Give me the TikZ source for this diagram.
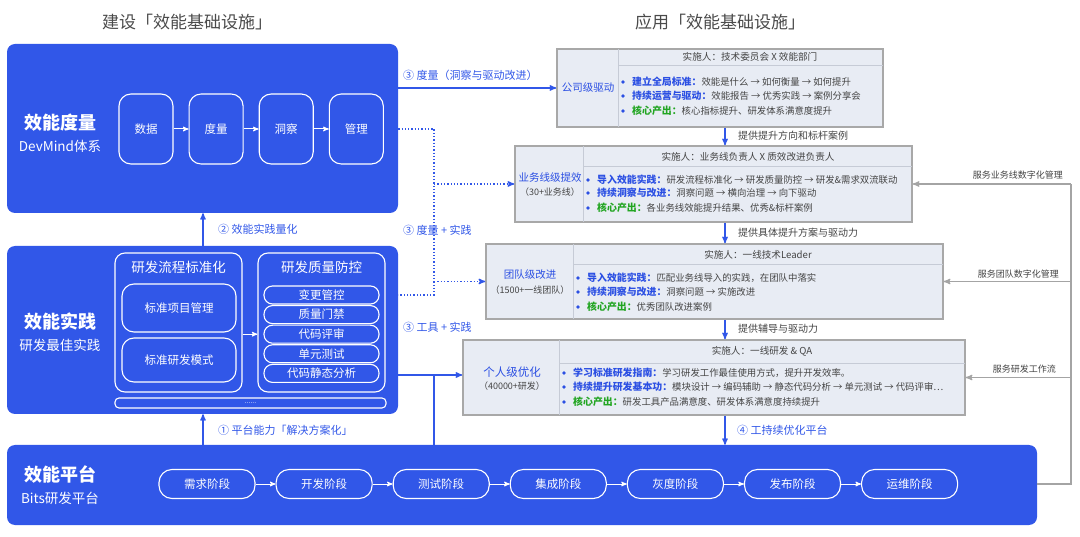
\documentclass[tikz,border=0pt]{standalone}
\usepackage{fontspec}
\setmainfont{Noto Sans CJK SC}
\usetikzlibrary{arrows,positioning}

\definecolor{effblue}{HTML}{3157E8}
\definecolor{headblue}{HTML}{2B4FE3}
\definecolor{headgreen}{HTML}{22A522}
\definecolor{panelfill}{HTML}{E8ECF4}
\definecolor{panelline}{HTML}{A8A8A8}
\definecolor{sepline}{HTML}{C6CBD6}
\definecolor{bodygray}{HTML}{444444}
\definecolor{titlegray}{HTML}{4A4A4A}
\definecolor{linkgray}{HTML}{A4A4A4}

\newcommand{\fsz}[1]{\fontsize{#1}{#1}\selectfont}

\tikzset{
  bigbox/.style={fill=effblue, rounded corners=8pt, inner sep=0pt},
  boxtitle/.style={text=white, font=\fsz{18}\bfseries, inner sep=0pt},
  boxsub/.style={text=white, font=\fsz{13.5}, inner sep=0pt},
  flowbox/.style={draw=white, line width=1.1pt, rounded corners=12pt, text=white,
    font=\fsz{11.5}, minimum width=54pt, minimum height=70pt, inner sep=0pt},
  groupbox/.style={draw=white, line width=1.1pt, rounded corners=10pt, inner sep=0pt, text=white},
  grouptitle/.style={text=white, font=\fsz{13.5}, inner sep=0pt},
  itembox/.style={draw=white, line width=1.1pt, rounded corners=12pt, text=white,
    font=\fsz{11.5}, minimum width=114pt, inner sep=0pt},
  pillbox/.style={draw=white, line width=1.1pt, rounded corners=8.5pt, text=white,
    font=\fsz{11.5}, minimum width=115pt, minimum height=18pt, inner sep=0pt},
  stagebox/.style={draw=white, line width=1.1pt, rounded corners=13pt, text=white,
    font=\fsz{11.5}, minimum width=96pt, minimum height=29pt, inner sep=0pt},
  wlink/.style={draw=white, line width=1pt},
  link/.style={draw=effblue, line width=1.3pt},
  dotlink/.style={draw=effblue, line width=1.3pt, dotted},
  glink/.style={draw=linkgray, line width=1.3pt},
  bluelabel/.style={text=effblue, font=\fsz{11}, anchor=west, inner sep=0pt},
  graylabel/.style={text=bodygray, font=\fsz{10}, anchor=west, inner sep=0pt},
  glabel/.style={text=bodygray, font=\fsz{9}, anchor=east, inner sep=0pt},
  toptitle/.style={text=titlegray, font=\fsz{17}, inner sep=0pt},
  panel/.style={draw=panelline, line width=1.6pt, fill=panelfill, inner sep=0pt},
  divline/.style={draw=sepline, line width=0.8pt},
  lefttitle/.style={text=headblue, font=\fsz{10.5}, inner sep=0pt},
  leftsub/.style={text=bodygray, font=\fsz{9}, inner sep=0pt},
  headtext/.style={text=bodygray, font=\fsz{9.6}, inner sep=0pt},
  rowtext/.style={text=bodygray, font=\fsz{9.4}, anchor=west, inner sep=0pt}
}

\begin{document}
\begin{tikzpicture}[x=1pt,y=-1pt,>=stealth',node distance=15pt]
\useasboundingbox (0,0) rectangle (1080,537);

% titles
\node[toptitle] (lefthead) at (187,22) {建设「效能基础设施」};
\node[toptitle] (righthead) at (720,22) {应用「效能基础设施」};

% measure block
\node[bigbox, minimum width=391pt, minimum height=169pt] (meas) at (202.5,128.5) {};
\node[boxtitle] (meastitle) at (60,123) {效能度量};
\node[boxsub] (meassub) at (60,146) {DevMind体系};
\node[flowbox] (data) at (146,129) {数据};
\node[flowbox, right=of data] (metric) {度量};
\node[flowbox, right=of metric] (insight) {洞察};
\node[flowbox, right=of insight] (manage) {管理};
\foreach \a/\b in {data/metric, metric/insight, insight/manage}
  \draw[wlink,->] (\a) -- (\b);

% practice block
\node[bigbox, minimum width=391pt, minimum height=168pt] (prac) at (202.5,330) {};
\node[boxtitle] (practitle) at (60,322) {效能实践};
\node[boxsub] (pracsub) at (60,345) {研发最佳实践};
\node[groupbox, minimum width=127pt, minimum height=139pt] (std) at (178.5,322.5) {};
\node[grouptitle] (stdtitle) at (178.5,267) {研发流程标准化};
\node[itembox, minimum height=48pt] (stdpm) at (179,308) {标准项目管理};
\node[itembox, minimum height=44pt] (stdmode) at (179,360) {标准研发模式};
\node[groupbox, minimum width=127pt, minimum height=139pt] (qual) at (321.5,322.5) {};
\node[grouptitle] (qualtitle) at (321.5,267) {研发质量防控};
\foreach \t [count=\i] in {变更管控,质量门禁,代码评审,单元测试,代码静态分析}
  \node[pillbox] (q\i) at (321.5,{275.4+19.6*\i}) {\t};
\draw[wlink,->] (std.east |- q3) -- (qual.west |- q3);
\node[groupbox, rounded corners=4pt, minimum width=271pt, minimum height=10pt] (more) at (250.5,403) {\fsz{7}......};

% platform block
\node[bigbox, minimum width=1030pt, minimum height=80pt] (plat) at (522,485) {};
\node[boxtitle] (plattitle) at (60,474) {效能平台};
\node[boxsub] (platsub) at (60,498) {Bits研发平台};
\node[stagebox] (s1) at (207,484) {需求阶段};
\foreach \t [count=\i from 2] in {开发阶段,测试阶段,集成阶段,灰度阶段,发布阶段,运维阶段}{
  \pgfmathtruncatemacro\j{\i-1}
  \node[stagebox, right=20pt of s\j] (s\i) {\t};
}
\foreach \i in {1,...,6}{
  \pgfmathtruncatemacro\k{\i+1}
  \draw[wlink,->] (s\i) -- (s\k);
}

% left side links
\coordinate (lx) at (203,0);
\draw[link,->] (lx |- prac.north) -- (lx |- meas.south);
\node[bluelabel] (lab2) at (218,229) {② 效能实践量化};
\draw[link,->] (lx |- plat.north) -- (lx |- prac.south);
\node[bluelabel] (lab1) at (218,430) {① 平台能力「解决方案化」};

% panels
\node[panel, minimum width=326pt, minimum height=78pt] (comp) at (720,88) {};
\node[panel, minimum width=397pt, minimum height=76pt] (biz) at (713.5,184) {};
\node[panel, minimum width=457pt, minimum height=75pt] (team) at (714.5,281.5) {};
\node[panel, minimum width=502pt, minimum height=75pt] (indiv) at (714,377.5) {};

\draw[divline] (618,49) -- (618,127);
\draw[divline] (618,65) -- (883,65);
\draw[divline] (583,146) -- (583,222);
\draw[divline] (583,166) -- (912,166);
\draw[divline] (573,244) -- (573,319);
\draw[divline] (573,264) -- (943,264);
\draw[divline] (559,340) -- (559,415);
\draw[divline] (559,363) -- (965,363);

\node[lefttitle] (comptitle) at (588,88) {公司级驱动};
\node[lefttitle] (biztitle) at (550,178) {业务线级提效};
\node[leftsub] (bizsub) at (550,192) {（30+业务线）};
\node[lefttitle] (teamtitle) at (530,275) {团队级改进};
\node[leftsub] (teamsub) at (530,290) {（1500+一线团队）};
\node[lefttitle, font=\fsz{11.5}] (indivtitle) at (512,372) {个人级优化};
\node[leftsub] (indivsub) at (512,386) {（40000+研发）};

\node[headtext] (comphead) at (750,57) {实施人：技术委员会 X 效能部门};
\node[headtext] (bizhead) at (748,157) {实施人：业务线负责人 X 质效改进负责人};
\node[headtext] (teamhead) at (758,255) {实施人：一线技术Leader};
\node[headtext] (indivhead) at (762,351) {实施人：一线研发 \& QA};

\foreach \y/\c/\h/\t [count=\i] in {
  82/headblue/建立全局标准：/效能是什么 → 如何衡量 → 如何提升,
  96/headblue/持续运营与驱动：/效能报告 → 优秀实践 → 案例分享会,
  111/headgreen/核心产出：/核心指标提升、研发体系满意度提升}{
  \fill[headblue] (623,\y) circle (1.8pt);
  \node[rowtext] (comp\i) at (632,\y) {\textcolor{\c}{\fsz{9.9}\bfseries\h}\t};
}
\foreach \y/\c/\h/\t [count=\i] in {
  180/headblue/导入效能实践：/研发流程标准化 → 研发质量防控 → 研发\&需求双流联动,
  193/headblue/持续洞察与改进：/洞察问题 → 横向治理 → 向下驱动,
  208/headgreen/核心产出：/各业务线效能提升结果、优秀\&标杆案例}{
  \fill[headblue] (588,\y) circle (1.8pt);
  \node[rowtext] (biz\i) at (597,\y) {\textcolor{\c}{\fsz{9.9}\bfseries\h}\t};
}
\foreach \y/\c/\h/\t [count=\i] in {
  278/headblue/导入效能实践：/匹配业务线导入的实践，在团队中落实,
  292/headblue/持续洞察与改进：/洞察问题 → 实施改进,
  307/headgreen/核心产出：/优秀团队改进案例}{
  \fill[headblue] (578,\y) circle (1.8pt);
  \node[rowtext] (team\i) at (587,\y) {\textcolor{\c}{\fsz{9.9}\bfseries\h}\t};
}
\foreach \y/\c/\h/\t [count=\i] in {
  373/headblue/学习标准研发指南：/学习研发工作最佳使用方式，提升开发效率。,
  387/headblue/持续提升研发基本功：/模块设计 → 编码辅助 → 静态代码分析 → 单元测试 → 代码评审…,
  402/headgreen/核心产出：/研发工具产品满意度、研发体系满意度持续提升}{
  \fill[headblue] (564,\y) circle (1.8pt);
  \node[rowtext] (indiv\i) at (573,\y) {\textcolor{\c}{\fsz{9.9}\bfseries\h}\t};
}

% panel to panel
\coordinate (ax) at (725,0);
\draw[link,->] (ax |- comp.south) -- (ax |- biz.north);
\node[graylabel] (down1) at (738,136) {提供提升方向和标杆案例};
\draw[link,->] (ax |- biz.south) -- (ax |- team.north);
\node[graylabel] (down2) at (738,233) {提供具体提升方案与驱动力};
\draw[link,->] (ax |- team.south) -- (ax |- indiv.north);
\node[graylabel] (down3) at (738,329) {提供辅导与驱动力};
\draw[link,->] (ax |- indiv.south) -- (ax |- plat.north);
\node[bluelabel] (lab4) at (737,430) {④ 工持续优化平台};

% middle links
\draw[link,->] (meas.east |- comp.west) -- (comp.west);
\node[bluelabel] (lab3a) at (403,75) {③ 度量（洞察与驱动改进）};
\coordinate (dtop) at (434,129);
\coordinate (dbot) at (434,295);
\draw[dotlink] (meas.east |- dtop) -- (dtop) -- (dbot) -- (prac.east |- dbot);
\draw[dotlink,->] (dtop |- biz.west) -- (biz.west);
\draw[dotlink,->] (dtop |- team.west) -- (team.west);
\node[bluelabel] (lab3b) at (403,230) {③ 度量 + 实践};
\coordinate (sj) at (434,375);
\draw[link,->] (prac.east |- sj) -- (indiv.west |- sj);
\draw[link] (sj) -- (sj |- plat.north);
\node[bluelabel] (lab3c) at (403,327) {③ 工具 + 实践};

% right side service links
\coordinate (gx) at (1071,484);
\draw[glink] (plat.east |- gx) -- (gx) -- (gx |- biz.east);
\draw[glink,->] (gx |- biz.east) -- (biz.east);
\draw[glink,->] (gx |- team.east) -- (team.east);
\draw[glink,->] (gx |- indiv.east) -- (indiv.east);
\node[glabel] (srv1) at (1063,175) {服务业务线数字化管理};
\node[glabel] (srv2) at (1059,274) {服务团队数字化管理};
\node[glabel] (srv3) at (1056,369) {服务研发工作流};

\end{tikzpicture}
\end{document}
